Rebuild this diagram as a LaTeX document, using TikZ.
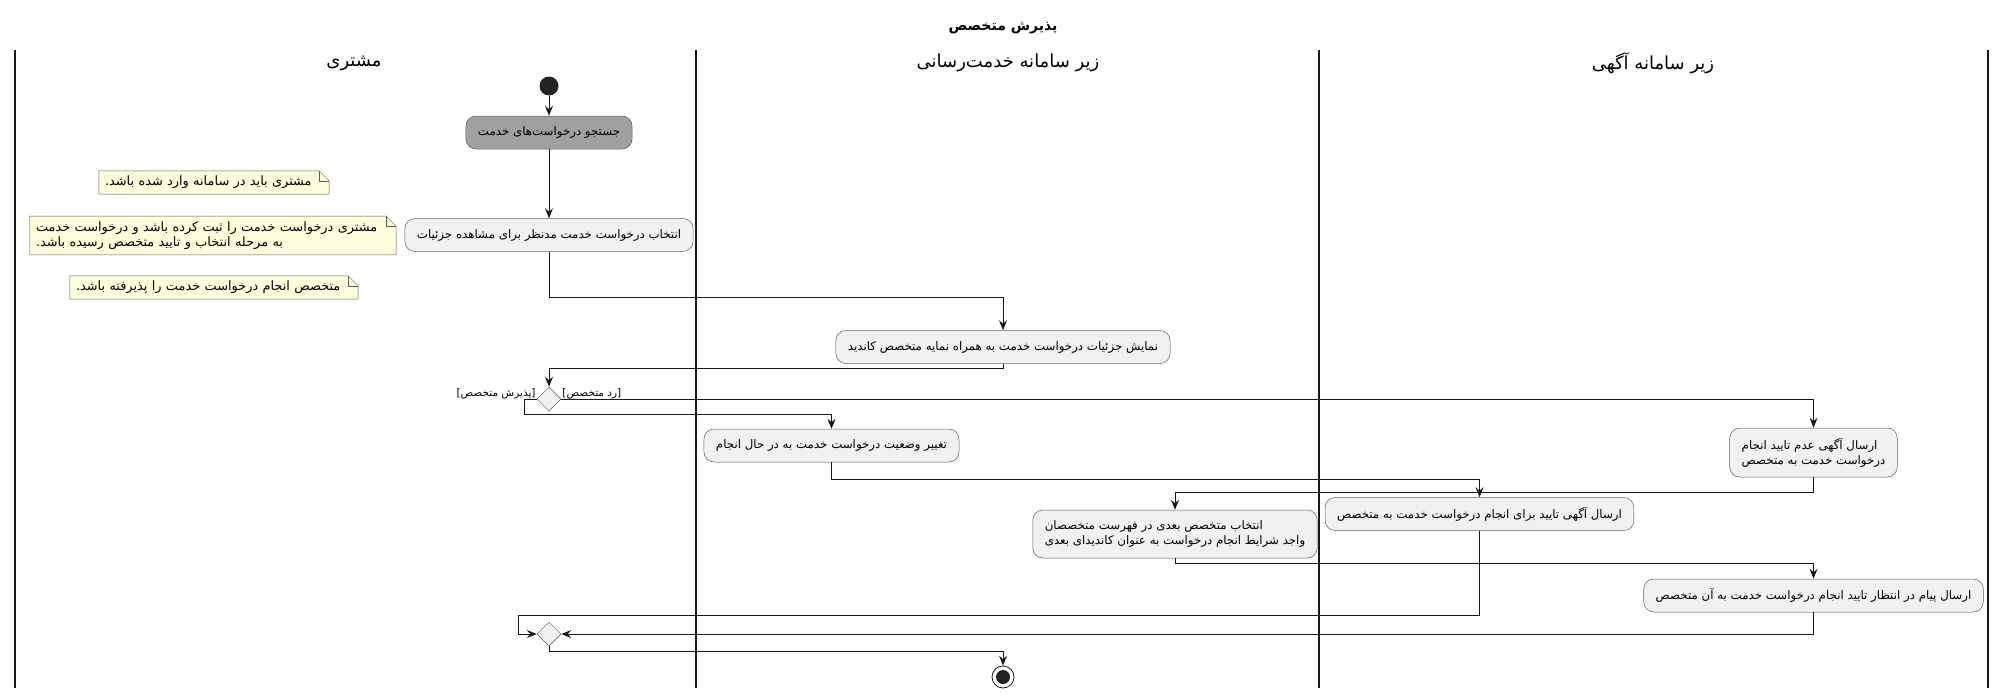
\documentclass[tikz,border=0pt]{standalone}
\usepackage{fontspec}
\setmainfont{DejaVu Sans}
\newfontfamily\farsi[Script=Arabic]{DejaVu Sans}
\TeXXeTstate=1
\usetikzlibrary{arrows.meta,shapes.geometric}
\usepackage{xcolor}

\definecolor{actfill}{HTML}{F1F1F1}
\definecolor{actline}{HTML}{181818}
\definecolor{notefill}{HTML}{FEFFDD}
\definecolor{searchfill}{HTML}{A0A0A0}

\newcommand{\pers}[1]{{\farsi\beginR #1\endR}}

\pgfdeclarelayer{bg}
\pgfsetlayers{bg,main}

\tikzset{
  act/.style={draw=actline!70, line width=0.5pt, fill=actfill, rounded corners=10pt,
    minimum height=33pt, inner xsep=12pt, inner ysep=4pt, align=left,
    font=\fontsize{11.8}{15}\selectfont},
  notebox/.style={inner xsep=6pt, inner ysep=5pt, align=left,
    font=\fontsize{12.9}{15.5}\selectfont},
  decision/.style={diamond, draw=actline!70, line width=0.5pt, fill=actfill,
    minimum width=24pt, minimum height=24pt, inner sep=0pt},
  guard/.style={inner sep=0pt, font=\fontsize{10.5}{12}\selectfont},
  lanehead/.style={font=\fontsize{18}{21}\selectfont},
  flow/.style={line width=0.9pt, draw=actline, -{Stealth[length=10pt,width=8pt,inset=3.5pt]}},
  lane/.style={line width=1.4pt, draw=actline}
}

\begin{document}
\begin{tikzpicture}[x=1pt,y=-1pt]
  \useasboundingbox (0,0) rectangle (2006,699);

  % title and lanes
  \node[font=\fontsize{14}{16}\selectfont\bfseries] (title) at (1003,28) {\pers{پذیرش متخصص}};
  \foreach \lx in {15,696,1319,1988}
    \draw[lane] (\lx,50) -- (\lx,688);
  \node[lanehead] (lane1) at (354,63) {\pers{مشتری}};
  \node[lanehead] (lane2) at (1008,63) {\pers{زیر سامانه خدمت‌رسانی}};
  \node[lanehead] (lane3) at (1653,63) {\pers{زیر سامانه آگهی}};

  % start
  \node[circle, fill=actline!95, minimum size=19pt, inner sep=0pt] (start) at (549,86) {};

  \node[act, fill=searchfill] (search) at (549,132.5) {\pers{جستجو درخواست‌های خدمت}};
  \node[act] (select) at (549,235) {\pers{انتخاب درخواست خدمت مدنظر برای مشاهده جزئیات}};
  \node[act] (show) at (1003,347) {\pers{نمایش جزئیات درخواست خدمت به همراه نمایه متخصص کاندید}};

  % notes
  \node[notebox, text width=218pt] (note1) at (214,182.5) {.\pers{مشتری باید در سامانه وارد شده باشد}};
  \node[notebox, text width=354pt] (note2) at (213,235.5) {\pers{مشتری درخواست خدمت را ثبت کرده باشد و درخواست خدمت}\\
    .\pers{به مرحله انتخاب و تایید متخصص رسیده باشد}};
  \node[notebox, text width=276pt] (note3) at (214,287.5) {.\pers{متخصص انجام درخواست خدمت را پذیرفته باشد}};
  \begin{pgfonlayer}{bg}
    \foreach \n in {note1,note2,note3} {
      \filldraw[fill=notefill, draw=actline!70, line width=0.5pt]
        (\n.south west) -- (\n.north west) -- ([xshift=-10pt]\n.north east)
        -- ([yshift=-10pt]\n.north east) -- (\n.south east) -- cycle;
      \draw[draw=actline!70, line width=0.5pt]
        ([xshift=-10pt]\n.north east) -- ([xshift=-10pt,yshift=-10pt]\n.north east)
        -- ([yshift=-10pt]\n.north east);
    }
  \end{pgfonlayer}

  \node[decision] (choice) at (549,399) {};
  \node[guard, anchor=base west] (reject) at ([xshift=1pt,yshift=3pt]choice.east) {[{\farsi\beginR رد متخصص\endR}]};
  \node[guard, anchor=base east] (accept) at ([xshift=-1pt,yshift=3pt]choice.west) {[{\farsi\beginR پذیرش متخصص\endR}]};

  \node[act] (status) at (831.5,445.5) {\pers{تغییر وضعیت درخواست خدمت به در حال انجام}};
  \node[act, minimum height=49pt] (refuse) at (1813.5,452.5) {\pers{ارسال آگهی عدم تایید انجام}\\
    \pers{درخواست خدمت به متخصص}};
  \node[act] (confirm) at (1479.5,514) {\pers{ارسال آگهی تایید برای انجام درخواست خدمت به متخصص}};
  \node[act, minimum height=48pt] (next) at (1175,534) {\pers{انتخاب متخصص بعدی در فهرست متخصصان}\\
    \pers{واجد شرایط انجام درخواست به عنوان کاندیدای بعدی}};
  \node[act] (wait) at (1813.5,595.5) {\pers{ارسال پیام در انتظار تایید انجام درخواست خدمت به آن متخصص}};

  \node[decision] (merge) at (549,634) {};

  % end
  \node[circle, draw=actline, line width=0.8pt, fill=white, minimum size=22pt, inner sep=0pt] (stop) at (1003,677) {};
  \fill[actline!95] (stop) circle (7pt);

  % connectors
  \draw[flow] (start) -- (search);
  \draw[flow] (search) -- (select);
  \draw[flow] (select.south) -- ++(0,46) -| (show.north);
  \draw[flow] (show.south) -- ++(0,5) -| (choice.north);
  \draw[flow] (choice.east) -| (refuse.north);
  \draw[flow] (choice.west) -- ++(-12,0) -- ++(0,15) -| (status.north);
  \draw[flow] (status.south) -- ++(0,17) -| (confirm.north);
  \draw[flow] (refuse.south) -- ++(0,15) -| (next.north);
  \draw[flow] (next.south) -- ++(0,5) -| (wait.north);
  \draw[flow] (confirm.south) -- ++(0,85) -| ([xshift=-18pt]merge.west) -- (merge.west);
  \draw[flow] (wait.south) |- (merge.east);
  \draw[flow] (merge.south) -- ++(0,5) -| (stop.north);
\end{tikzpicture}
\end{document}
